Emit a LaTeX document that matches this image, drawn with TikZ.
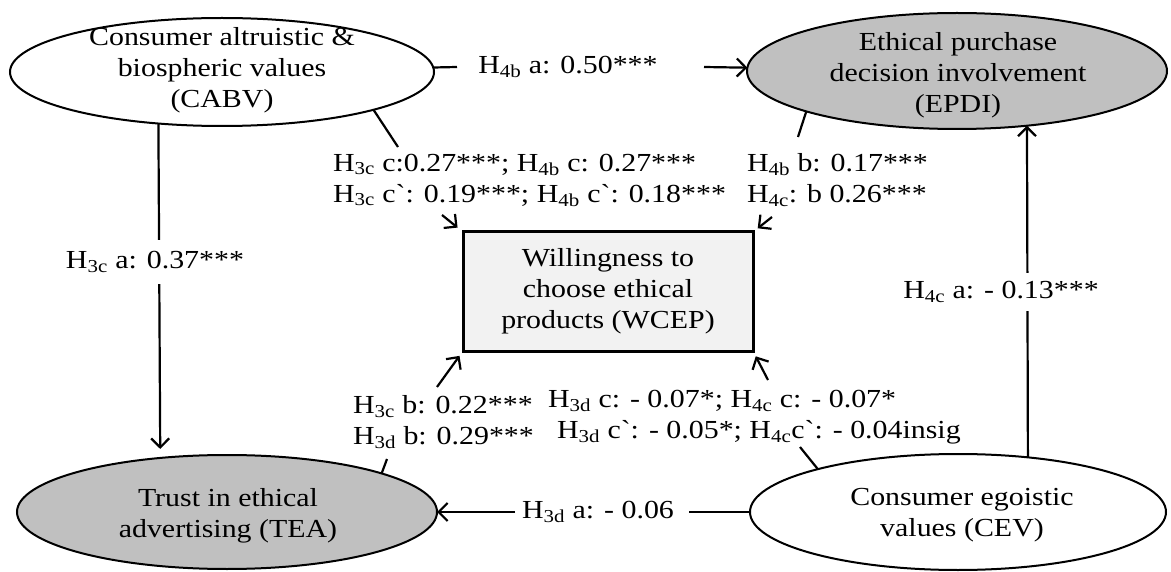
\documentclass[tikz,border=0pt]{standalone}
\usepackage{fontspec}
\newfontfamily\lab{Liberation Serif}[FakeStretch=1.15]
\usetikzlibrary{arrows.meta,shapes.geometric}
\definecolor{ellgray}{RGB}{192,192,192}
\definecolor{boxgray}{RGB}{242,242,242}
\begin{document}
\begin{tikzpicture}[x=1pt,y=-1pt,
  every node/.style={font=\lab\fontsize{26}{31}\selectfont, inner sep=0pt, outer sep=0pt},
  ell/.style={draw, ellipse, line width=2pt},
  grayell/.style={ell, fill=ellgray},
  txt/.style={align=center},
  conn/.style={line width=2.2pt},
  arr/.style={conn, -{Straight Barb[length=9pt,width=18pt]}},
  lbl/.style={align=left, anchor=west},
  cut/.style={fill=white, inner xsep=4pt, inner ysep=#1},
  cut/.default=10pt]
\useasboundingbox (0,0) rectangle (1171,572);
% main shapes
\node[ell, minimum width=424pt, minimum height=108pt] (CABV) at (222,72) {};
\node[txt] (CABVt) at (222,70) {Consumer altruistic \&\\ biospheric values\\ (CABV)};
\node[grayell, minimum width=420pt, minimum height=116pt] (EPDI) at (957,71) {};
\node[txt] (EPDIt) at (958,75) {Ethical purchase\\ decision involvement\\ (EPDI)};
\node[grayell, minimum width=420pt, minimum height=114pt] (TEA) at (227,512) {};
\node[txt] (TEAt) at (228,516) {Trust in ethical\\ advertising (TEA)};
\node[ell, minimum width=416pt, minimum height=116pt] (CEV) at (958,512) {};
\node[txt] (CEVt) at (962,515) {Consumer egoistic\\ values (CEV)};
\node[draw, line width=3pt, fill=boxgray, minimum width=290pt, minimum height=119pt, txt] (WCEP) at (608,291.5) {Willingness to\\ choose ethical\\ products (WCEP)};
% free ends
\coordinate (h4bL) at (457,67);
\coordinate (h4bR) at (704,67);
\coordinate (c1) at (398,147);
\coordinate (a1) at (442,215);
\coordinate (c2) at (798,137);
\coordinate (a2) at (772,217);
\coordinate (c3) at (387,459);
\coordinate (a3) at (437,387);
\coordinate (c4) at (800,447);
\coordinate (a4) at (768,380);
\coordinate (h3dR) at (689,512);
\coordinate (h3dL) at (515,512);
% connectors
\draw[conn] (CABV) -- (h4bL);
\draw[arr] (h4bR) -- (EPDI);
\draw[arr, shorten >=9pt] (CABV.219.8) -- (TEA.141.1);
\draw[arr] (CEV.38) -- (EPDI.-38);
\draw[conn] (CABV.-14.2) -- (c1);
\draw[arr, shorten >=7pt] (a1) -- (WCEP.north west);
\draw[conn] (EPDI.195.9) -- (c2);
\draw[arr, shorten >=6pt] (a2) -- (WCEP.north east);
\draw[conn] (TEA.14.8) -- (c3);
\draw[arr, shorten >=6pt] (a3) -- (WCEP.south west);
\draw[conn] (CEV.163.95) -- (c4);
\draw[arr, shorten >=6pt] (a4) -- (WCEP.south east);
\draw[conn] (CEV) -- (h3dR);
\draw[arr] (h3dL) -- (TEA);
% labels
\node (l4ba) at (568,67) {H\textsubscript{4b} a: 0.50***};
\node[cut=11pt] (l3ca) at (155,262) {H\textsubscript{3c} a: 0.37***};
\node[cut=8pt] (l4ca) at (1001,292) {H\textsubscript{4c} a: - 0.13***};
\node[lbl] (l3cc) at (333,180) {H\textsubscript{3c} c:0.27***; H\textsubscript{4b} c: 0.27***\\ H\textsubscript{3c} c`: 0.19***; H\textsubscript{4b} c`: 0.18***};
\node[lbl] (l4bb) at (747,180) {H\textsubscript{4b} b: 0.17***\\ H\textsubscript{4c}: b 0.26***};
\node[lbl] (l3cb) at (353,422) {H\textsubscript{3c} b: 0.22***\\ H\textsubscript{3d} b: 0.29***};
\node[lbl] (l3dc) at (548,417) {H\textsubscript{3d} c: - 0.07*; H\textsubscript{4c} c: - 0.07*\\ \hspace{9pt}H\textsubscript{3d} c`: - 0.05*; H\textsubscript{4c}c`: - 0.04insig};
\node (l3da) at (598,512) {H\textsubscript{3d} a: - 0.06};
\end{tikzpicture}
\end{document}
